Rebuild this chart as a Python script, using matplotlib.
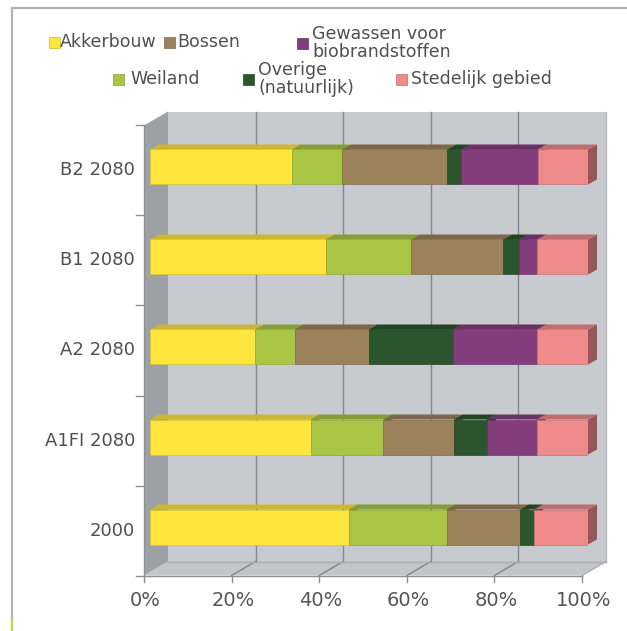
import matplotlib
matplotlib.use("Agg")
import matplotlib.pyplot as plt
from matplotlib.patches import Polygon, Rectangle
from matplotlib.lines import Line2D
from matplotlib.colors import to_rgb

# ---- data -------------------------------------------------------------
categories = ["2000", "A1FI 2080", "A2 2080", "B1 2080", "B2 2080"]
akkerbouw = [45.4, 36.7, 24.0, 40.2, 32.4]
weiland = [22.3, 16.6, 9.0, 19.5, 11.5]
bossen = [16.8, 16.1, 16.9, 21.0, 24.0]
overige = [3.2, 7.5, 19.3, 3.6, 3.2]
gewassen = [0.0, 11.4, 19.2, 4.1, 17.4]
stedelijk = [12.3, 11.7, 11.6, 11.6, 11.5]

series_names = ["Akkerbouw", "Weiland", "Bossen", "Overige\n(natuurlijk)",
                "Gewassen voor\nbiobrandstoffen", "Stedelijk gebied"]
series_values = [akkerbouw, weiland, bossen, overige, gewassen, stedelijk]
series_colors = ["#FFE53C", "#A8C644", "#9B825A", "#2B562D", "#833D7D", "#EE8A8A"]

x_ticks = [0, 20, 40, 60, 80, 100]
x_tick_labels = ["0%", "20%", "40%", "60%", "80%", "100%"]

# ---- figure / axes ----------------------------------------------------
W, H = 627, 631
fig = plt.figure(figsize=(W / 100, H / 100), dpi=100)
fig.patch.set_facecolor("white")

AX_L, AX_R, AX_T, AX_B = 150, 588, 122, 572
ax = fig.add_axes([AX_L / W, 1 - AX_B / H, (AX_R - AX_L) / W, (AX_B - AX_T) / H])
n = len(categories)
ax.set_xlim(0, 100)
ax.set_ylim(-0.5, n - 0.5)
ax.axis("off")

sx = 100 / (AX_R - AX_L)
sy = n / (AX_B - AX_T)


def off(dx_px, dy_px):
    """Pixel offset (dy up) expressed in data units."""
    return dx_px * sx, dy_px * sy


FRONT = off(-6, -3.5)   # front plane relative to the bar faces
BACK = off(18, 10.5)    # back wall relative to the bar faces
BAR_D = off(9, 5)       # depth of each bar
y0, y1 = -0.5, n - 0.5
grid_c = "#83878C"


def shade(c, f):
    r, g, b = to_rgb(c)
    return (r * f, g * f, b * f)


def poly(pts, fc, z, ec="none", lw=0):
    ax.add_patch(Polygon(pts, closed=True, facecolor=fc, edgecolor=ec,
                         linewidth=lw, zorder=z, clip_on=False))


def line(xs, ys, c=grid_c, lw=1.0, z=1):
    ax.add_line(Line2D(xs, ys, color=c, linewidth=lw, zorder=z, clip_on=False))


# back wall, floor and left wall
poly([(BACK[0], y0 + BACK[1]), (100 + BACK[0], y0 + BACK[1]),
      (100 + BACK[0], y1 + BACK[1]), (BACK[0], y1 + BACK[1])], "#C7CACF", 0)
poly([(FRONT[0], y0 + FRONT[1]), (100 + FRONT[0], y0 + FRONT[1]),
      (100 + BACK[0], y0 + BACK[1]), (BACK[0], y0 + BACK[1])], "#C2C5CA", 0.1)
poly([(FRONT[0], y0 + FRONT[1]), (FRONT[0], y1 + FRONT[1]),
      (BACK[0], y1 + BACK[1]), (BACK[0], y0 + BACK[1])], "#9DA0A5", 0.2)

# gridlines on the back wall and the floor
for t in x_ticks[1:-1]:
    line([t + BACK[0], t + BACK[0]], [y0 + BACK[1], y1 + BACK[1]], z=0.5)
    line([t + FRONT[0], t + BACK[0]], [y0 + FRONT[1], y0 + BACK[1]], z=0.5)
line([100 + FRONT[0], 100 + BACK[0]], [y0 + FRONT[1], y0 + BACK[1]], c="#A9ADB2", z=0.5)
line([100 + BACK[0], 100 + BACK[0]], [y0 + BACK[1], y1 + BACK[1]], c="#B9BCC1", z=0.5)
line([BACK[0], 100 + BACK[0]], [y0 + BACK[1], y0 + BACK[1]], c="#A9ADB2", z=0.5)

# axis lines and ticks on the front plane
line([FRONT[0], 100 + FRONT[0]], [y0 + FRONT[1], y0 + FRONT[1]], c="#8C9095", z=0.6)
line([FRONT[0], FRONT[0]], [y0 + FRONT[1], y1 + FRONT[1]], c="#8C9095", z=0.6)
tx, ty = off(0, -6)
for t, lab in zip(x_ticks, x_tick_labels):
    line([t + FRONT[0], t + FRONT[0]], [y0 + FRONT[1], y0 + FRONT[1] + ty], c="#8C9095", z=0.6)
    ax.text(t + FRONT[0] + off(1.5, 0)[0], y0 + FRONT[1] + off(0, -25)[1], lab,
            ha="center", va="center", fontsize=14, color="#555555", clip_on=False)
lx, _ = off(-8, 0)
for k in range(n + 1):
    yy = -0.5 + k + FRONT[1]
    line([FRONT[0] + lx, FRONT[0]], [yy, yy], c="#8C9095", z=0.6)
for i, cat in enumerate(categories):
    ax.text(off(-15, 0)[0], i + FRONT[1], cat, ha="right", va="center",
            fontsize=13, color="#505050", clip_on=False)

# stacked 3-D bars
bh = 35 * sy
left = [0.0] * n
for k, (vals, col) in enumerate(zip(series_values, series_colors)):
    z = 2 + k
    for i, v in enumerate(vals):
        if v <= 0:
            continue
        l, r = left[i], left[i] + v
        b, t = i - bh / 2, i + bh / 2
        poly([(r, b), (r, t), (r + BAR_D[0], t + BAR_D[1]), (r + BAR_D[0], b + BAR_D[1])],
             shade(col, 0.62), z)
        poly([(l, t), (l + BAR_D[0], t + BAR_D[1]), (r + BAR_D[0], t + BAR_D[1]), (r, t)],
             shade(col, 0.8), z)
    ax.barh(range(n), vals, height=bh, left=left, color=col,
            edgecolor=shade(col, 0.85), linewidth=0.5, zorder=z + 0.5)
    left = [a + v for a, v in zip(left, vals)]

# legend
def fx(p):
    return p / W


def fy(p):
    return 1 - p / H


legend_items = [
    (0, 49, 42, 60), (2, 164, 42, 177), (4, 297, 43, 312),
    (1, 113, 79, 130), (3, 243, 79, 258), (5, 396, 79, 411),
]
sw = 11
for idx, sx_px, cy_px, tx_px in legend_items:
    fig.add_artist(Rectangle((fx(sx_px), fy(cy_px + sw / 2)), sw / W, sw / H,
                             transform=fig.transFigure, facecolor=series_colors[idx],
                             edgecolor=shade(series_colors[idx], 0.8), linewidth=0.5))
    fig.text(fx(tx_px), fy(cy_px), series_names[idx], ha="left", va="center",
             fontsize=12.5, color="#505050", linespacing=1.05)

# outer frame
fig.add_artist(Line2D([fx(12), fx(12)], [0, fy(8)], color="#AEB5BC", linewidth=1.6,
                      transform=fig.transFigure))
fig.add_artist(Line2D([fx(12), 1], [fy(8), fy(8)], color="#AEB5BC", linewidth=1.6,
                      transform=fig.transFigure))
fig.add_artist(Line2D([fx(12), fx(12)], [0, fy(619)], color="#C8D24A", linewidth=1.6,
                      transform=fig.transFigure))

fig.savefig("out.png", dpi=100, facecolor="white")
